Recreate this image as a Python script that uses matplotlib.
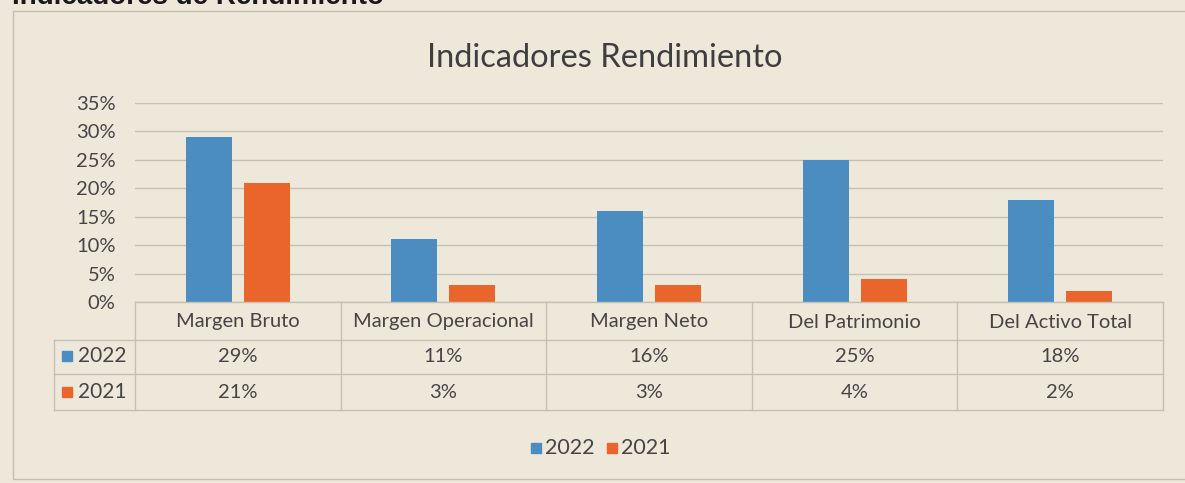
import matplotlib.pyplot as plt
import numpy as np
from matplotlib.patches import Rectangle

W, H = 1185, 483

categories = ['Margen Bruto', 'Margen Operacional', 'Margen Neto',
              'Del Patrimonio', 'Del Activo Total']
series_names = ['2022', '2021']
values_2022 = [29, 11, 16, 25, 18]
values_2021 = [21, 3, 3, 4, 2]
ytick_vals = [0, 5, 10, 15, 20, 25, 30, 35]

blue = '#4B8DC0'
orange = '#E9652C'
paper = '#EEE8DB'
grid_c = '#C6C0B3'
text_c = '#454545'
font = 'Lato'


def fx(px):
    return px / W


def fy(py):
    return 1 - py / H


fig = plt.figure(figsize=(W / 100, H / 100), dpi=100)
fig.patch.set_facecolor(paper)

# chart frame
fig.add_artist(Rectangle((fx(13), fy(479)), fx(1200) - fx(13), fy(11) - fy(479),
                         transform=fig.transFigure, fill=False,
                         ec='#C4BEB1', lw=1))

# page header, cut off at the top edge like in the scan
fig.text(fx(12), fy(4), 'Indicadores de Rendimiento', fontsize=20,
         fontweight='bold', family='Liberation Sans', color='#1A1A1A',
         ha='left', va='baseline')

fig.text(fx(605), fy(58), 'Indicadores Rendimiento', fontsize=23.5,
         family=font, color='#3E3E3E', ha='center', va='center')

left, right, y0, y35 = 135, 1163, 302, 103
ax = fig.add_axes([fx(left), fy(y0), fx(right) - fx(left), fy(y35) - fy(y0)])
ax.set_facecolor('none')
ax.set_xlim(-0.5, len(categories) - 0.5)
ax.set_ylim(0, 35)

x = np.arange(len(categories))
ax.bar(x - 0.141, values_2022, width=0.224, color=blue, zorder=3)
ax.bar(x + 0.141, values_2021, width=0.224, color=orange, zorder=3)

ax.set_yticks(ytick_vals)
ax.set_yticklabels([f'{v}%' for v in ytick_vals], fontsize=14.5,
                   family=font, color=text_c)
ax.tick_params(axis='y', length=0, pad=14)
ax.set_xticks([])
ax.grid(axis='y', color=grid_c, lw=1, zorder=0)
for s in ax.spines.values():
    s.set_visible(False)

# data table under the chart
col_edges = np.linspace(left, right, len(categories) + 1)
row_lines = [y0, 340, 374, 410]
line_kw = dict(color=grid_c, lw=1, transform=fig.transFigure)
fig.add_artist(plt.Line2D([fx(left), fx(right)], [fy(row_lines[0])] * 2, **line_kw))
for ry in row_lines[1:]:
    fig.add_artist(plt.Line2D([fx(54), fx(right)], [fy(ry)] * 2, **line_kw))
for cx in col_edges:
    fig.add_artist(plt.Line2D([fx(cx)] * 2, [fy(row_lines[0]), fy(row_lines[-1])],
                              **line_kw))
fig.add_artist(plt.Line2D([fx(54)] * 2, [fy(row_lines[1]), fy(row_lines[-1])],
                          **line_kw))

tkw = dict(fontsize=14.5, family=font, color=text_c, ha='center', va='center')
for i, cat in enumerate(categories):
    cx = (col_edges[i] + col_edges[i + 1]) / 2
    fig.text(fx(cx), fy(322), cat, **tkw)
    fig.text(fx(cx), fy(356), f'{values_2022[i]}%', **tkw)
    fig.text(fx(cx), fy(392), f'{values_2021[i]}%', **tkw)

for name, col, ry in zip(series_names, [blue, orange], [356, 392]):
    fig.add_artist(Rectangle((fx(62), fy(ry + 5)), fx(10), fy(0) - fy(10),
                             transform=fig.transFigure, color=col))
    fig.text(fx(78), fy(ry), name, fontsize=15, family=font, color=text_c,
             ha='left', va='center')

# legend
for name, col, lx in zip(series_names, [blue, orange], [531, 607]):
    fig.add_artist(Rectangle((fx(lx), fy(453)), fx(10), fy(0) - fy(10),
                             transform=fig.transFigure, color=col))
    fig.text(fx(lx + 14), fy(448), name, fontsize=15.5, family=font,
             color=text_c, ha='left', va='center')

fig.savefig('out.png', dpi=100, facecolor=paper)
